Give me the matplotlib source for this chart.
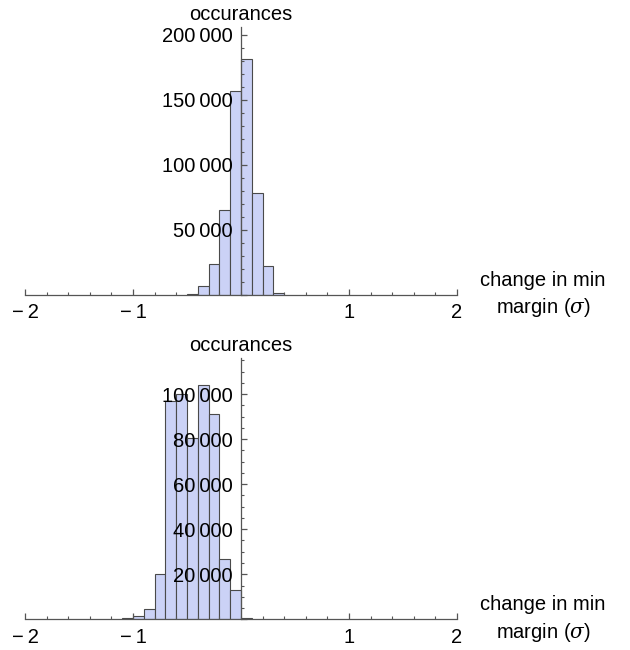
import numpy as np
import matplotlib
matplotlib.use("Agg")
import matplotlib.pyplot as plt
from matplotlib.ticker import FixedLocator, MultipleLocator, FuncFormatter

plt.rcParams['font.family'] = ['Liberation Sans', 'DejaVu Sans']
plt.rcParams['mathtext.fontset'] = 'dejavuserif'

# data: histogram bins (left edges) and counts
top_edges = [-0.5, -0.4, -0.3, -0.2, -0.1, 0.0, 0.1, 0.2, 0.3]
top_counts = [1000, 6800, 23500, 65000, 156500, 181500, 78500, 22500, 1300]

bot_edges = [-1.1, -1.0, -0.9, -0.8, -0.7, -0.6, -0.5, -0.4, -0.3, -0.2, -0.1, 0.0]
bot_counts = [400, 1600, 4400, 20100, 96700, 100100, 80400, 104100, 91100, 26700, 13000, 400]

bin_width = 0.1
x_major = [-2, -1, 1, 2]
xlabel = "change in min\nmargin ($\\sigma$)"
ylabel = "occurances"

FILL = '#cbd2f6'
EDGE = '#4a4a4a'
AX = '#555555'
FS = 14.5

fig = plt.figure(figsize=(6.3, 6.5), dpi=100)

def fmt(v, pos):
    if v == 0:
        return ''
    s = f"{int(round(v)):,}".replace(',', '\u2009')
    return s

def xfmt(v, pos):
    return f"\u2212\u2009{abs(int(v))}" if v < 0 else f"{int(v)}"

def setup(ax, edges, counts, ymax, ymaj, ymin):
    ax.bar(edges, counts, width=bin_width, align='edge', color=FILL,
           edgecolor=EDGE, linewidth=0.8, zorder=1)
    ax.set_xlim(-2, 2)
    ax.set_ylim(0, ymax)
    for s in ['top', 'right']:
        ax.spines[s].set_visible(False)
    ax.spines['left'].set_position(('data', 0))
    ax.spines['bottom'].set_position(('data', 0))
    for s in ['left', 'bottom']:
        ax.spines[s].set_color(AX)
        ax.spines[s].set_linewidth(0.9)
        ax.spines[s].set_zorder(3)
    ax.xaxis.set_major_locator(FixedLocator(x_major))
    ax.xaxis.set_minor_locator(MultipleLocator(0.2))
    ax.yaxis.set_major_locator(MultipleLocator(ymaj))
    ax.yaxis.set_minor_locator(MultipleLocator(ymin))
    ax.yaxis.set_major_formatter(FuncFormatter(fmt))
    ax.xaxis.set_major_formatter(FuncFormatter(xfmt))
    ax.tick_params(axis='both', which='both', direction='in', color=AX,
                   labelsize=FS)
    ax.tick_params(axis='both', which='major', length=4.5, width=0.9)
    ax.tick_params(axis='both', which='minor', length=2.5, width=0.8)
    ax.tick_params(axis='x', pad=6)
    ax.tick_params(axis='y', pad=6)
    ax.patch.set_alpha(0)
    ax.text(0, 1.012, ylabel, transform=ax.get_xaxis_transform(),
            ha='center', va='bottom', fontsize=FS)
    ax.text(1.199, 0, xlabel, transform=ax.get_yaxis_transform(),
            ha='center', va='center', fontsize=FS, multialignment='center',
            linespacing=1.4)

ax1 = fig.add_axes([0.0397, 0.5462, 0.6857, 0.4123])
setup(ax1, top_edges, top_counts, 206000, 50000, 10000)

ax2 = fig.add_axes([0.0397, 0.0472, 0.6857, 0.4020])
setup(ax2, bot_edges, bot_counts, 116000, 20000, 5000)

fig.savefig('out.png', dpi=100)
